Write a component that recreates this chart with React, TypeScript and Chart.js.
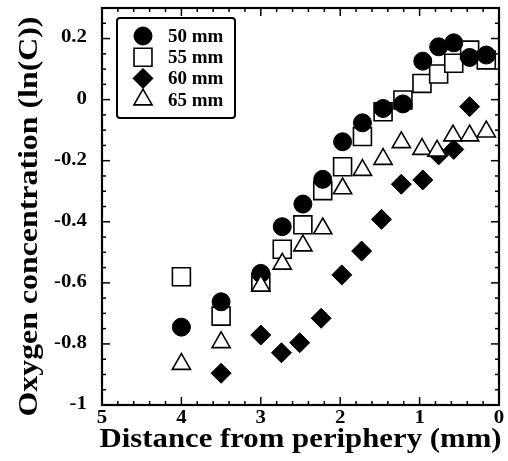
import React, { useEffect, useRef } from 'react';
import { Chart, registerables } from 'chart.js';
import { drawPoint } from 'chart.js/helpers';

Chart.register(...registerables);

const seriesLabels = ['50 mm', '55 mm', '60 mm', '65 mm'];
const xTitle = 'Distance from periphery (mm)';
const yTitle = 'Oxygen concentration (ln(C))';

const x50 = [4, 3.5, 3, 2.73, 2.47, 2.22, 1.97, 1.72, 1.46, 1.21, 0.96, 0.76, 0.57, 0.37, 0.16];
const y50 = [-0.745, -0.662, -0.569, -0.416, -0.342, -0.261, -0.138, -0.076, -0.029, -0.014, 0.126, 0.173, 0.186, 0.138, 0.146];

const x55 = [4, 3.5, 3, 2.73, 2.47, 2.22, 1.97, 1.72, 1.46, 1.21, 0.97, 0.76, 0.57, 0.37, 0.16];
const y55 = [-0.58, -0.709, -0.598, -0.49, -0.41, -0.298, -0.22, -0.121, -0.04, -0.001, 0.053, 0.084, 0.119, 0.162, 0.13];

const x60 = [3.5, 3, 2.74, 2.51, 2.24, 1.98, 1.73, 1.48, 1.23, 0.96, 0.76, 0.57, 0.37];
const y60 = [-0.896, -0.771, -0.829, -0.796, -0.716, -0.574, -0.496, -0.392, -0.277, -0.263, -0.181, -0.163, -0.023];

const x65 = [4, 3.5, 3, 2.73, 2.47, 2.22, 1.97, 1.72, 1.46, 1.23, 0.97, 0.78, 0.58, 0.37, 0.16];
const y65 = [-0.866, -0.795, -0.61, -0.538, -0.478, -0.422, -0.291, -0.231, -0.195, -0.14, -0.162, -0.168, -0.118, -0.118, -0.105];

const xTickValues = [5, 4, 3, 2, 1, 0];
const yTickValues = [-1, -0.8, -0.6, -0.4, -0.2, 0, 0.2];
const xTickLabels = ['5', '4', '3', '2', '1', '0'];
const yTickLabels = ['-1', '-0.8', '-0.6', '-0.4', '-0.2', '0', '0.2'];

const pts = (xs: number[], ys: number[]) => xs.map((x, i) => ({ x, y: ys[i] }));

const markerStyles = [
  { pointStyle: 'circle', radius: 9, fill: '#000', borderWidth: 1 },
  { pointStyle: 'rect', radius: 12.7, fill: '#fff', borderWidth: 1.6 },
  { pointStyle: 'rectRot', radius: 10, fill: '#000', borderWidth: 1 },
  { pointStyle: 'triangle', radius: 10.5, fill: '#fff', borderWidth: 1.6 },
];

const SERIF = '"Liberation Serif", "Times New Roman", serif';

const decorPlugin = {
  id: 'decor',
  beforeDatasetsDraw(chart: any) {
    const { ctx, chartArea: a, scales } = chart;
    const xs = scales.x;
    const ys = scales.y;
    ctx.save();
    ctx.strokeStyle = '#000';
    ctx.lineWidth = 1.5;
    const line = (x1: number, y1: number, x2: number, y2: number) => {
      ctx.beginPath();
      ctx.moveTo(x1, y1);
      ctx.lineTo(x2, y2);
      ctx.stroke();
    };
    for (let i = 0; i <= 25; i++) {
      const v = i * 0.2;
      const px = xs.getPixelForValue(v);
      const len = i % 5 === 0 ? 8 : 4;
      line(px, a.bottom, px, a.bottom - len);
      line(px, a.top, px, a.top + len);
    }
    for (let i = 0; i <= 26; i++) {
      const v = -1 + i * 0.05;
      const py = ys.getPixelForValue(v);
      const len = i % 4 === 0 ? 8 : 4;
      line(a.left, py, a.left + len, py);
      line(a.right, py, a.right - len, py);
    }
    ctx.lineWidth = 2.2;
    ctx.strokeRect(a.left, a.top, a.right - a.left, a.bottom - a.top);

    // tick labels
    ctx.fillStyle = '#000';
    ctx.font = `bold 19px ${SERIF}`;
    ctx.textAlign = 'right';
    ctx.textBaseline = 'middle';
    yTickValues.forEach((v, i) => {
      ctx.save();
      ctx.translate(a.left - 15, ys.getPixelForValue(v) - 1);
      ctx.scale(1.1, 1);
      ctx.fillText(yTickLabels[i], 0, 0);
      ctx.restore();
    });
    ctx.textAlign = 'center';
    ctx.textBaseline = 'top';
    xTickValues.forEach((v, i) => {
      ctx.save();
      ctx.translate(xs.getPixelForValue(v), a.bottom + 4);
      ctx.scale(1.1, 1);
      ctx.fillText(xTickLabels[i], 0, 0);
      ctx.restore();
    });
    ctx.restore();
  },
  afterDraw(chart: any) {
    const { ctx, chartArea: a } = chart;
    ctx.save();
    ctx.fillStyle = '#000';
    ctx.font = `bold 27px ${SERIF}`;
    ctx.textAlign = 'center';
    ctx.textBaseline = 'alphabetic';
    // x title
    ctx.save();
    ctx.translate((a.left + a.right) / 2, a.bottom + 42);
    ctx.scale(1.14, 1);
    ctx.fillText(xTitle, 0, 0);
    ctx.restore();
    // y title
    ctx.save();
    ctx.translate(a.left - 65, (a.top + a.bottom) / 2 + 10);
    ctx.rotate(-Math.PI / 2);
    ctx.scale(1.18, 1);
    ctx.fillText(yTitle, 0, 0);
    ctx.restore();

    // legend
    const bx = a.left + 15;
    const by = a.top + 10;
    const bw = 118;
    const bh = 100;
    ctx.lineWidth = 2;
    ctx.strokeStyle = '#000';
    ctx.fillStyle = '#fff';
    ctx.beginPath();
    if ((ctx as any).roundRect) (ctx as any).roundRect(bx, by, bw, bh, 3);
    else ctx.rect(bx, by, bw, bh);
    ctx.fill();
    ctx.stroke();
    ctx.font = `bold 19px ${SERIF}`;
    ctx.textAlign = 'left';
    ctx.textBaseline = 'middle';
    seriesLabels.forEach((label, i) => {
      const cy = by + 18 + i * 21.2;
      const cx = bx + 26;
      const m = markerStyles[i];
      ctx.fillStyle = m.fill;
      ctx.strokeStyle = '#000';
      ctx.lineWidth = m.borderWidth;
      drawPoint(ctx, { pointStyle: m.pointStyle as any, radius: m.radius, rotation: 0, borderWidth: m.borderWidth }, cx, cy);
      ctx.fillStyle = '#000';
      ctx.fillText(label, bx + 51, cy + 1);
    });
    ctx.restore();
  },
};

export default function App() {
  const ref = useRef<HTMLCanvasElement | null>(null);
  useEffect(() => {
    document.body.style.margin = '0';
    const canvas = ref.current!;
    const seriesX = [x50, x55, x60, x65];
    const seriesY = [y50, y55, y60, y65];
    const orders = [2, 3, 1, 0];
    const datasets = seriesLabels.map((label, i) => {
      const m = markerStyles[i];
      return {
        label,
        data: pts(seriesX[i], seriesY[i]),
        showLine: false,
        pointStyle: m.pointStyle,
        pointRadius: m.radius,
        pointHoverRadius: m.radius,
        pointBackgroundColor: m.fill,
        pointBorderColor: '#000',
        pointBorderWidth: m.borderWidth,
        order: orders[i],
      };
    });
    const chart = new Chart(canvas, {
      type: 'scatter',
      data: { datasets: datasets as any },
      options: {
        animation: false,
        responsive: false,
        devicePixelRatio: 1,
        layout: { autoPadding: false, padding: { top: 8, right: 9, left: 0, bottom: 0 } },
        plugins: { legend: { display: false }, tooltip: { enabled: false } },
        scales: {
          x: {
            type: 'linear',
            reverse: true,
            min: 0,
            max: 5,
            grid: { display: false, drawTicks: false },
            border: { display: false },
            afterBuildTicks: (s: any) => {
              s.ticks = xTickValues.map((v) => ({ value: v }));
            },
            afterFit: (s: any) => {
              s.height = 56;
            },
            ticks: { display: false },
          },
          y: {
            type: 'linear',
            min: -1,
            max: 0.3,
            grid: { display: false, drawTicks: false },
            border: { display: false },
            afterBuildTicks: (s: any) => {
              s.ticks = yTickValues.map((v) => ({ value: v }));
            },
            afterFit: (s: any) => {
              s.width = 102;
            },
            ticks: { display: false },
          },
        },
      },
      plugins: [decorPlugin],
    });
    return () => chart.destroy();
  }, []);
  return <canvas ref={ref} width={508} height={461} style={{ display: 'block' }} />;
}
